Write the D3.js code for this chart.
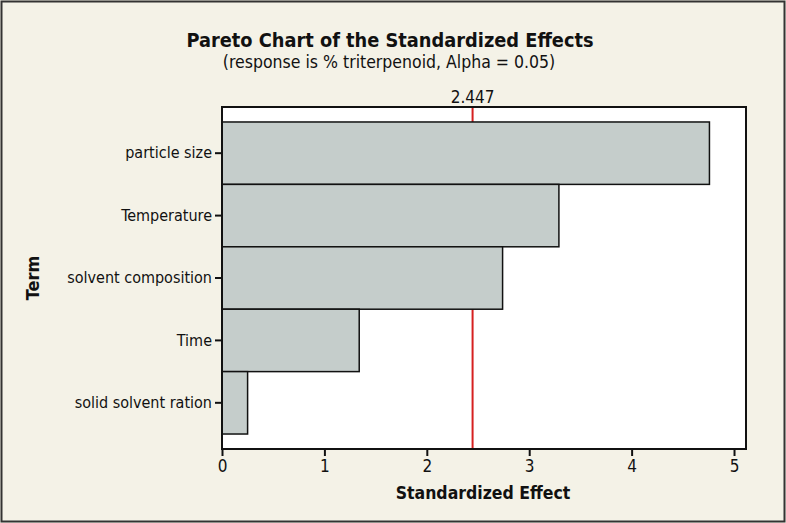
<!DOCTYPE html>
<html><head><meta charset="utf-8">
<script src="https://cdn.jsdelivr.net/npm/d3@7"></script>
<style>
body{margin:0;padding:0;background:#f4f2e7;}
svg{display:block;}
text{font-family:"DejaVu Sans Condensed","DejaVu Sans",sans-serif;fill:#111;}
</style></head>
<body>
<svg id="c" width="786" height="523"></svg>
<script>
const terms = ["particle size","Temperature","solvent composition","Time","solid solvent ration"];
const effects = [4.76, 3.29, 2.74, 1.34, 0.25];
const xTicks = [0,1,2,3,4,5];
const critical = 2.447;

const svg = d3.select("#c");
const W = 786, H = 523;
svg.append("rect").attr("x",1.5).attr("y",1.5).attr("width",W-3).attr("height",H-3)
  .attr("fill","#f4f2e7").attr("stroke","#333").attr("stroke-width",2);

const L = 222, R = 746, T = 107, B = 449;
const x = d3.scaleLinear().domain([0, 5.117]).range([L, R]);
const y = d3.scaleBand().domain(terms).range([T, B]).paddingInner(0).paddingOuter(0.24);

svg.append("rect").attr("x",L).attr("y",T).attr("width",R-L).attr("height",B-T)
  .attr("fill","#fff");

svg.append("line").attr("x1",x(critical)).attr("x2",x(critical)).attr("y1",T).attr("y2",B)
  .attr("stroke","#d62020").attr("stroke-width",2);

svg.selectAll("rect.bar").data(terms).enter().append("rect").attr("class","bar")
  .attr("x",x(0)).attr("y",d=>y(d))
  .attr("width",(d,i)=>x(effects[i])-x(0)).attr("height",y.bandwidth())
  .attr("fill","#c5cdcb").attr("stroke","#111").attr("stroke-width",1.5);

svg.append("rect").attr("x",L).attr("y",T).attr("width",R-L).attr("height",B-T)
  .attr("fill","none").attr("stroke","#111").attr("stroke-width",2);

const xa = svg.append("g").attr("transform",`translate(0,${B})`)
  .call(d3.axisBottom(x).tickValues(xTicks).tickSize(7).tickPadding(4).tickFormat(d3.format("d")));
xa.select(".domain").remove();
xa.selectAll("line").attr("stroke","#111").attr("stroke-width",2);
xa.selectAll("text").attr("font-size",17).attr("fill","#111");

const ya = svg.append("g").attr("transform",`translate(${L},0)`)
  .call(d3.axisLeft(y).tickSize(7).tickPadding(3));
ya.select(".domain").remove();
ya.selectAll("line").attr("stroke","#111").attr("stroke-width",2);
ya.selectAll("text").attr("font-size",16).attr("fill","#111");

svg.append("text").attr("x",x(critical)).attr("y",103).attr("text-anchor","middle")
  .attr("font-size",17).text(critical.toFixed(3));

svg.append("text").attr("x",390).attr("y",47).attr("text-anchor","middle")
  .attr("font-size",19.8).attr("font-weight","bold").text("Pareto Chart of the Standardized Effects");
svg.append("text").attr("x",389).attr("y",68).attr("text-anchor","middle")
  .attr("font-size",17.5).text("(response is % triterpenoid, Alpha = 0.05)");

svg.append("text").attr("x",483).attr("y",499).attr("text-anchor","middle")
  .attr("font-size",17.5).attr("font-weight","bold").text("Standardized Effect");
svg.append("text").attr("transform","translate(39,278) rotate(-90)").attr("text-anchor","middle")
  .attr("font-size",18).attr("font-weight","bold").text("Term");
</script>
</body></html>
